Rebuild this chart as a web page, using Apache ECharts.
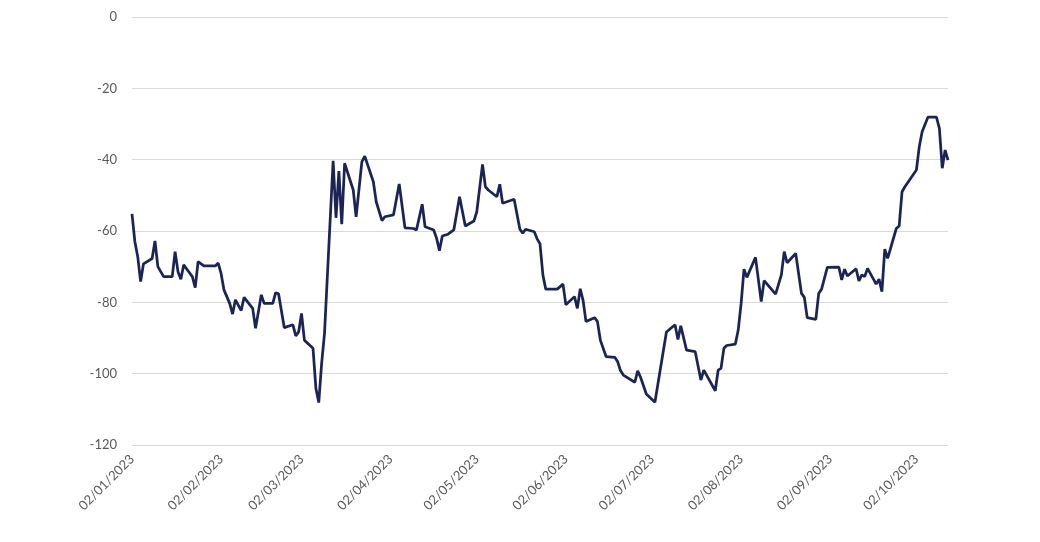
<!DOCTYPE html>
<html>
<head>
<meta charset="utf-8">
<script src="https://cdn.jsdelivr.net/npm/echarts@6/dist/echarts.min.js"></script>
<style>
html,body{margin:0;padding:0;background:#fff;}
#chart{width:1040px;height:542px;}
</style>
</head>
<body>
<div id="chart"></div>
<script>
var dates = [
'2023-01-02','2023-01-03','2023-01-04','2023-01-05','2023-01-06','2023-01-09','2023-01-10','2023-01-11','2023-01-13',
'2023-01-16','2023-01-17','2023-01-18','2023-01-19','2023-01-20','2023-01-22','2023-01-23','2023-01-24','2023-01-25',
'2023-01-27','2023-01-31','2023-02-01','2023-02-02','2023-02-03','2023-02-05','2023-02-06','2023-02-07','2023-02-09',
'2023-02-10','2023-02-13','2023-02-14','2023-02-16','2023-02-17','2023-02-20','2023-02-21','2023-02-22','2023-02-24',
'2023-02-27','2023-02-28','2023-03-01','2023-03-02','2023-03-03','2023-03-06','2023-03-07','2023-03-08','2023-03-09',
'2023-03-10','2023-03-13','2023-03-14','2023-03-15','2023-03-16','2023-03-17','2023-03-20','2023-03-21','2023-03-23',
'2023-03-24','2023-03-27','2023-03-28','2023-03-30','2023-03-31','2023-04-03','2023-04-05','2023-04-07','2023-04-10',
'2023-04-11','2023-04-13','2023-04-14','2023-04-17','2023-04-18','2023-04-19','2023-04-20','2023-04-22','2023-04-24',
'2023-04-26','2023-04-28','2023-05-01','2023-05-02','2023-05-04','2023-05-05','2023-05-06','2023-05-09','2023-05-10',
'2023-05-11','2023-05-15','2023-05-17','2023-05-18','2023-05-19','2023-05-22','2023-05-23','2023-05-24','2023-05-25',
'2023-05-26','2023-05-30','2023-06-01','2023-06-02','2023-06-05','2023-06-06','2023-06-07','2023-06-08','2023-06-09',
'2023-06-12','2023-06-13','2023-06-14','2023-06-16','2023-06-19','2023-06-20','2023-06-21','2023-06-22','2023-06-26',
'2023-06-27','2023-06-28','2023-06-30','2023-07-03','2023-07-07','2023-07-10','2023-07-11','2023-07-12','2023-07-14',
'2023-07-17','2023-07-19','2023-07-20','2023-07-24','2023-07-25','2023-07-26','2023-07-27','2023-07-28','2023-07-31',
'2023-08-01','2023-08-02','2023-08-03','2023-08-04','2023-08-07','2023-08-09','2023-08-10','2023-08-14','2023-08-16',
'2023-08-17','2023-08-18','2023-08-21','2023-08-23','2023-08-24','2023-08-25','2023-08-28','2023-08-29','2023-08-30',
'2023-09-01','2023-09-05','2023-09-06','2023-09-07','2023-09-08','2023-09-11','2023-09-12','2023-09-13','2023-09-14',
'2023-09-15','2023-09-18','2023-09-19','2023-09-20','2023-09-21','2023-09-22','2023-09-25','2023-09-26','2023-09-27',
'2023-09-28','2023-10-02','2023-10-03','2023-10-04','2023-10-06','2023-10-09','2023-10-10','2023-10-11','2023-10-12',
'2023-10-13'
];
var values = [
-55.2,-63,-67.2,-74.2,-69.2,-67.7,-62.8,-70,-72.8,
-72.8,-65.8,-71.4,-73.5,-69.5,-71.7,-72.8,-75.9,-68.6,
-69.8,-69.8,-69,-71.9,-76.5,-80.3,-83.3,-79.3,-82.3,
-78.6,-81.7,-87.3,-77.9,-80.3,-80.3,-77.3,-77.6,-87.1,
-86.3,-89.4,-88.3,-83.1,-90.6,-92.9,-104.1,-108.1,-97.1,
-88.7,-40.3,-56.3,-43.2,-58.1,-41,-48.5,-56,-40.6,
-39,-46.2,-51.8,-57.1,-56,-55.5,-46.8,-59.1,-59.3,
-59.7,-52.5,-58.8,-59.7,-62,-65.5,-61.4,-60.9,-59.7,
-50.4,-58.6,-57.2,-54.6,-41.3,-47.6,-48.5,-50.4,-46.9,
-52.2,-51.1,-59.5,-60.6,-59.5,-60.2,-62.2,-63.6,-72.3,
-76.3,-76.3,-74.9,-80.7,-78.4,-81.7,-76.2,-79.5,-85.4,
-84.3,-85.4,-90.6,-95.2,-95.4,-96.6,-99.1,-100.4,-102.4,
-99.2,-101,-105.7,-108,-88.3,-86.3,-90.4,-86.6,-93.4,
-93.8,-101.8,-99,-104.8,-99,-98.5,-92.9,-92.1,-91.7,
-87.7,-80.3,-70.7,-73,-67.4,-79.8,-73.9,-77.7,-72.3,
-65.8,-68.9,-66.3,-77.5,-78.6,-84.3,-84.8,-77.5,-76.3,
-70.2,-70.1,-73.7,-70.7,-72.6,-70.6,-74,-72.3,-72.8,
-70.5,-74.9,-73.5,-77,-65.1,-67.7,-59.3,-58.6,-49,
-47.6,-42.9,-36.4,-32.2,-28.1,-28.1,-31.2,-42.4,-37.3,
-40.1
];
var tickDates = ['2023-01-02','2023-02-02','2023-03-02','2023-04-02','2023-05-02','2023-06-02','2023-07-02','2023-08-02','2023-09-02','2023-10-02'];
var tickLabels = ['02/01/2023','02/02/2023','02/03/2023','02/04/2023','02/05/2023','02/06/2023','02/07/2023','02/08/2023','02/09/2023','02/10/2023'];
var axisStart = '2023-01-02';
var axisEnd = '2023-10-13';

function ts(s){var p=s.split('-');return Date.UTC(+p[0],+p[1]-1,+p[2]);}
var tickTs = tickDates.map(ts);
var seriesData = dates.map(function(d,i){return [ts(d), values[i]];});

var chart = echarts.init(document.getElementById('chart'));
chart.setOption({
  animation:false,
  backgroundColor:'#fff',
  textStyle:{fontFamily:'Lato, "Open Sans", sans-serif'},
  grid:{left:132,right:92,top:17,bottom:97,containLabel:false},
  xAxis:{
    type:'value',
    min:ts(axisStart),
    max:ts(axisEnd),
    axisLine:{show:true,onZero:false,lineStyle:{color:'#d9d9d9',width:1}},
    axisTick:{show:false},
    splitLine:{show:false},
    axisLabel:{
      customValues:tickTs,
      rotate:45,
      margin:12,
      color:'#595959',
      fontSize:13,
      fontFamily:'Lato, "Open Sans", sans-serif',
      showMinLabel:true,
      showMaxLabel:true,
      hideOverlap:false,
      formatter:function(v){
        var i=tickTs.indexOf(v);
        return i>=0?tickLabels[i]:'';
      }
    }
  },
  yAxis:{
    type:'value',
    min:-120,
    max:0,
    interval:20,
    axisLine:{show:false},
    axisTick:{show:false},
    splitLine:{show:true,lineStyle:{color:'#d9d9d9',width:1}},
    axisLabel:{color:'#595959',fontSize:13,margin:15,fontFamily:'Lato, "Open Sans", sans-serif'}
  },
  series:[{
    type:'line',
    data:seriesData,
    showSymbol:false,
    symbol:'none',
    lineStyle:{color:'#1c2455',width:2.75},
    itemStyle:{color:'#1c2455'}
  }]
});
</script>
</body>
</html>
